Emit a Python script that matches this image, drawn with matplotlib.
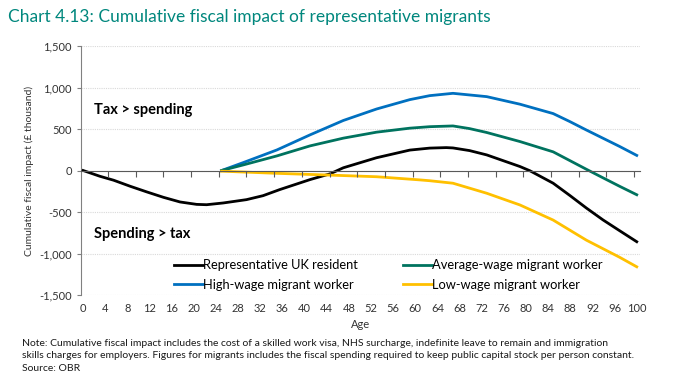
import numpy as np
import matplotlib
matplotlib.use("Agg")
import matplotlib.pyplot as plt

plt.rcParams['font.family'] = ['Lato', 'DejaVu Sans']

# 数据（从图中读取，单位：千英镑）
uk_age = [0, 3, 5.5, 8.5, 11.5, 14.5, 17.5, 20.5, 22.3, 25.3, 29.5, 32.5, 35.5, 41, 44.6, 47,
          53, 59, 62.6, 65.6, 66.8, 69.8, 72.9, 78.9, 80.7, 84.9, 87.9, 90.9, 93.9, 96.9, 100]
uk_val = [0, -69, -117, -190, -258, -323, -379, -408, -412, -391, -351, -303, -230, -109, -40, 33,
          154, 246, 270, 276, 272, 240, 188, 48, -3, -153, -300, -452, -595, -725, -858]

high_age = [25, 28.9, 35, 41, 47, 53, 59, 62.6, 66.8, 72.9, 78.9, 84.9, 87.9, 90.9, 96.9, 100]
high_val = [0, 95, 248, 430, 603, 741, 854, 902, 930, 890, 799, 686, 590, 488, 290, 182]

avg_age = [25, 28.9, 35, 41, 47, 53, 59, 62.6, 66.8, 69.8, 72.9, 78.9, 84.9, 87.9, 90.9, 93.9, 96.9, 100]
avg_val = [0, 67, 176, 297, 390, 462, 510, 528, 537, 505, 458, 349, 225, 120, 15, -88, -190, -292]

low_age = [25, 35, 44, 53, 60.8, 62.6, 66.8, 72.9, 78.9, 84.9, 87.9, 90.9, 96.9, 100]
low_val = [-8, -34, -54, -75, -113, -123, -153, -274, -415, -597, -718, -839, -1045, -1160]

x_ticks = list(range(0, 101, 4))
y_ticks = [-1500, -1000, -500, 0, 500, 1000, 1500]

fig = plt.figure(figsize=(6.98, 3.79), dpi=100)
ax = fig.add_axes([0.116, 0.2216, 0.801, 0.657])

ax.plot(uk_age, uk_val, color='#000000', lw=2, label='Representative UK resident', zorder=3)
ax.plot(high_age, high_val, color='#0070c0', lw=2, label='High-wage migrant worker', zorder=3)
ax.plot(avg_age, avg_val, color='#00735f', lw=2, label='Average-wage migrant worker', zorder=3)
ax.plot(low_age, low_val, color='#ffc000', lw=2, label='Low-wage migrant worker', zorder=3)

ax.set_xlim(-0.4, 100.6)
ax.set_ylim(-1500, 1500)
ax.set_yticks(y_ticks)
ax.set_yticklabels([f"{v:,}" for v in y_ticks], fontsize=8, color='#333333')
ax.set_xticks(x_ticks)
ax.set_xticklabels([str(v) for v in x_ticks], fontsize=8, color='#333333')
ax.tick_params(axis='x', length=0, pad=6)
ax.tick_params(axis='y', length=3, color='#808080', direction='out')
ax.grid(axis='y', color='#d9d9d9', lw=0.8, ls=(0, (1, 1)))
for s in ['top', 'right', 'bottom']:
    ax.spines[s].set_visible(False)
ax.spines['left'].set_color('#808080')

# 零线和刻度
ax2 = ax.twiny()
ax2.set_xlim(ax.get_xlim())
ax2.spines['bottom'].set_position(('data', 0))
ax2.spines['bottom'].set_color('#595959')
for s in ['top', 'right', 'left']:
    ax2.spines[s].set_visible(False)
ax2.xaxis.set_ticks_position('bottom')
ax2.set_xticks(np.arange(4.5, 100, 5))
ax2.set_xticklabels([])
ax2.tick_params(axis='x', length=4, color='#595959', direction='out')

ax.set_xlabel('Age', fontsize=8, color='#333333', labelpad=3)
ax.set_ylabel('Cumulative fiscal impact (£ thousand)', fontsize=7.5, color='#333333', labelpad=4)

ax.text(2, 730, 'Tax > spending', fontsize=10.5, fontweight='bold', va='center')
ax.text(2, -770, 'Spending > tax', fontsize=10.5, fontweight='bold', va='center')

ax.legend(loc='lower center', bbox_to_anchor=(0.55, -0.015), ncol=2, frameon=False,
          fontsize=9.3, handlelength=2.2, handletextpad=0.05, columnspacing=3.5,
          labelspacing=0.6, borderaxespad=0.2)

fig.text(0.012, 0.955, 'Chart 4.13: Cumulative fiscal impact of representative migrants',
         fontsize=12.5, color='#00877d', va='center')

note = ("Note: Cumulative fiscal impact includes the cost of a skilled work visa, NHS surcharge, indefinite leave to remain and immigration\n"
        "skills charges for employers. Figures for migrants includes the fiscal spending required to keep public capital stock per person constant.\n"
        "Source: OBR")
fig.text(0.031, 0.105, note, fontsize=7.5, color='#1a1a1a', va='top', linespacing=1.45)

fig.savefig('out.png', dpi=100)
